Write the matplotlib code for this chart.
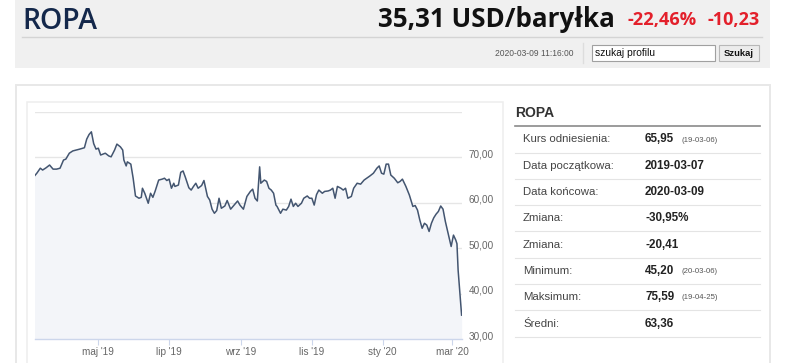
import matplotlib
matplotlib.use('Agg')
import matplotlib.pyplot as plt
import matplotlib.dates as mdates
import pandas as pd
from matplotlib.patches import Rectangle

# ---------------- data ----------------
start_date = '2019-03-07'
day_offsets = [0, 2, 5, 7, 10, 13, 16, 19, 22, 25, 27, 30, 33, 36, 39, 43, 45, 47, 49, 51,
               53, 55, 57, 61, 64, 66, 69, 71, 74, 76, 77, 79, 80, 83, 85, 87, 90, 92, 93, 95,
               98, 100, 102, 104, 107, 110, 112, 114, 116, 118, 120, 121, 124, 126, 128, 130, 133, 135, 137, 139,
               141, 144, 146, 149, 151, 153, 155, 157, 159, 161, 164, 166, 169, 172, 175, 177, 180, 183, 186, 188,
               190, 192, 194, 195, 198, 200, 202, 204, 206, 208, 209, 212, 214, 217, 219, 221, 223, 225, 227, 230,
               232, 235, 237, 239, 241, 243, 245, 248, 250, 253, 255, 257, 259, 261, 264, 266, 268, 270, 273, 275,
               278, 281, 284, 289, 292, 295, 297, 299, 301, 303, 305, 307, 310, 313, 315, 317, 320, 323, 326, 328,
               330, 332, 334, 336, 338, 340, 342, 344, 346, 348, 350, 352, 354, 356, 359, 361, 363, 364, 365, 368]
prices = [65.9, 66.5, 67.6, 67.2, 67.7, 68.3, 67.4, 67.4, 67.6, 69.4, 69.6, 70.9, 71.4, 71.6, 71.8, 72.1, 74.0, 75.0, 75.6, 73.0,
          71.8, 72.0, 70.5, 70.9, 70.3, 70.1, 71.6, 72.9, 72.3, 71.6, 69.4, 68.1, 69.0, 68.5, 65.4, 61.5, 61.0, 61.2, 63.2, 62.1,
          59.9, 62.1, 61.2, 62.6, 65.0, 65.2, 65.4, 64.9, 65.2, 63.2, 64.3, 63.6, 63.9, 66.7, 67.0, 65.6, 63.3, 62.8, 63.6, 64.3,
          63.2, 63.8, 64.9, 61.4, 60.6, 58.6, 57.7, 58.3, 61.0, 58.8, 59.3, 60.5, 58.6, 59.5, 60.4, 59.5, 58.6, 61.4, 62.5, 63.0,
          61.0, 60.4, 67.9, 64.3, 65.0, 64.7, 63.2, 62.8, 62.1, 59.5, 59.2, 57.7, 58.6, 58.4, 59.2, 60.8, 59.2, 59.9, 59.2, 59.9,
          61.0, 61.5, 61.0, 61.0, 59.5, 61.8, 62.8, 62.1, 62.5, 62.6, 62.8, 63.2, 61.0, 63.6, 63.2, 62.8, 63.2, 61.0, 61.4, 63.2,
          64.3, 64.1, 65.0, 65.9, 66.5, 67.6, 68.1, 66.5, 66.3, 68.5, 68.5, 66.1, 65.4, 64.4, 64.7, 65.2, 63.6, 61.7, 59.2, 59.4,
          58.4, 56.2, 54.4, 55.5, 55.1, 53.7, 55.5, 56.7, 57.5, 58.1, 59.3, 58.6, 55.9, 53.7, 50.4, 52.9, 51.8, 51.0, 45.2, 35.31]
end_date = '2020-03-09'

tick_dates = ['2019-05-01', '2019-07-01', '2019-09-01', '2019-11-01', '2020-01-01', '2020-03-01']
tick_labels = ["maj '19", "lip '19", "wrz '19", "lis '19", "sty '20", "mar '20"]
y_ticks = [30, 40, 50, 60, 70, 80]
y_labels = ['30,00', '40,00', '50,00', '60,00', '70,00', '']

title = 'ROPA'
price_text = '35,31 USD/baryłka'
change_pct = '-22,46%'
change_abs = '-10,23'
timestamp = '2020-03-09 11:16:00'
search_placeholder = 'szukaj profilu'
button_text = 'Szukaj'

table_title = 'ROPA'
stat_labels = ['Kurs odniesienia:', 'Data początkowa:', 'Data końcowa:', 'Zmiana:',
               'Zmiana:', 'Minimum:', 'Maksimum:', 'Średni:']
stat_values = ['65,95', '2019-03-07', '2020-03-09', '-30,95%', '-20,41', '45,20', '75,59', '63,36']
stat_notes = ['(19-03-06)', '', '', '', '', '(20-03-06)', '(19-04-25)', '']

# ---------------- figure ----------------
W, H = 786, 363
fig = plt.figure(figsize=(W / 100, H / 100), dpi=100)
fig.patch.set_facecolor('white')

bg = fig.add_axes([0, 0, 1, 1])
bg.set_xlim(0, W)
bg.set_ylim(H, 0)
bg.axis('off')

renderer = fig.canvas.get_renderer()


def fit_width(t, target):
    for _ in range(3):
        w = t.get_window_extent(renderer).width
        t.set_fontsize(t.get_fontsize() * target / w)


# header
bg.add_patch(Rectangle((15, 0), 755, 68, facecolor='#f0f0f0', edgecolor='none'))
bg.plot([22, 762], [36.5, 36.5], color='#d4d4d4', lw=1)
t = bg.text(22, 29, title, fontsize=20, color='#14284b', family='Open Sans', weight='semibold',
            va='baseline', ha='left')
fit_width(t, 75)
t = bg.text(378, 27, price_text, fontsize=22, color='#111111', family='Open Sans', weight='bold',
            va='baseline', ha='left')
fit_width(t, 237)
t = bg.text(628, 25, change_pct, fontsize=14, color='#e3202b', family='Open Sans', weight='bold',
            va='baseline', ha='left')
fit_width(t, 69)
t = bg.text(708, 25, change_abs, fontsize=14, color='#e3202b', family='Open Sans', weight='bold',
            va='baseline', ha='left')
fit_width(t, 52)

t = bg.text(495, 53, timestamp, fontsize=6.5, color='#555555', family='Liberation Sans', va='center', ha='left')
fit_width(t, 79)
bg.plot([582.5, 582.5], [43, 63], color='#dddddd', lw=1)
bg.add_patch(Rectangle((592, 44.5), 123, 16.5, facecolor='white', edgecolor='#a0a0a0', lw=0.8))
t = bg.text(595, 53, search_placeholder, fontsize=6.8, color='#111111', family='Liberation Sans',
            va='center', ha='left')
fit_width(t, 61)
bg.add_patch(Rectangle((719, 45), 40, 16, facecolor='#ececec', edgecolor='#b8b8b8', lw=0.8))
t = bg.text(739, 53.5, button_text, fontsize=6.8, color='#111111', family='Liberation Sans', weight='bold',
            va='center', ha='center')
fit_width(t, 30)

# panels
bg.add_patch(Rectangle((16, 85), 754, 300, facecolor='white', edgecolor='#e8e8e8', lw=1.4))
bg.add_patch(Rectangle((27, 102), 476, 300, facecolor='white', edgecolor='#eeeeee', lw=1.1))

# stats table
bg.text(515, 117, table_title, fontsize=10, color='#333333', family='Liberation Sans', weight='bold',
        va='baseline', ha='left')
bg.plot([515, 760], [125.5, 125.5], color='#8a8a8a', lw=1.2)
row_y0, row_h = 139.5, 26.3
for i, (lab, val, note) in enumerate(zip(stat_labels, stat_values, stat_notes)):
    yc = row_y0 + i * row_h
    bg.text(523, yc, lab, fontsize=8.2, color='#444444', family='Liberation Sans', va='center', ha='left')
    bg.text(645, yc, val, fontsize=8.4, color='#222222', family='Liberation Sans', weight='bold',
            va='center', ha='left')
    if note:
        bg.text(681, yc + 0.5, note, fontsize=5.6, color='#555555', family='Liberation Sans',
                va='center', ha='left')
    bg.plot([515, 760], [yc + 13, yc + 13], color='#e4e4e4', lw=0.8)

# ---------------- chart ----------------
dates = pd.Timestamp(start_date) + pd.to_timedelta(day_offsets, unit='D')
x0, x1 = 34.5, 461.6
y_bottom, y_top = 339.3, 111.8
ax = fig.add_axes([x0 / W, (H - y_bottom) / H, (x1 - x0) / W, (y_bottom - y_top) / H])
ax.set_facecolor('white')
ax.fill_between(dates, prices, 30, color='#f3f5f9', lw=0)
ax.plot(dates, prices, color='#435570', lw=1.1)
ax.set_xlim(pd.Timestamp(start_date), pd.Timestamp(end_date))
ax.set_ylim(30, 80)

for s in ['top', 'left', 'right']:
    ax.spines[s].set_visible(False)
ax.spines['bottom'].set_color('#ccd6eb')
ax.spines['bottom'].set_linewidth(1)

ax.set_yticks(y_ticks)
ax.set_yticklabels(y_labels)
ax.yaxis.tick_right()
ax.tick_params(axis='y', length=0, pad=4.8, labelsize=7.2, labelcolor='#666666')
for lbl in ax.get_yticklabels():
    lbl.set_verticalalignment('baseline')
    lbl.set_family('Liberation Sans')
ax.grid(axis='y', color='#e6e6e6', lw=1)
ax.set_axisbelow(True)

ax.set_xticks(pd.to_datetime(tick_dates))
ax.set_xticklabels(tick_labels)
ax.tick_params(axis='x', length=4.3, width=0.8, color='#ccd6eb', pad=1.5, labelsize=7.2,
               labelcolor='#666666')
for lbl in ax.get_xticklabels():
    lbl.set_family('Liberation Sans')

fig.savefig('out.png', dpi=100, facecolor='white')
